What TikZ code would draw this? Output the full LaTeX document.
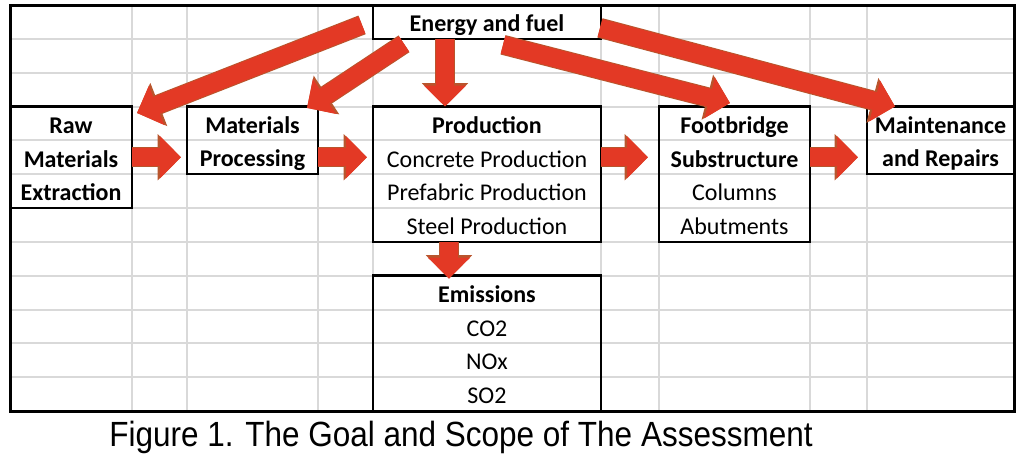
\documentclass[tikz,border=0pt]{standalone}
\usepackage{fontspec}
\setmainfont{Carlito}
\newfontfamily\capfont{Liberation Sans}
\usetikzlibrary{arrows.meta}
\definecolor{flowred}{RGB}{227,57,37}
\definecolor{flowedge}{RGB}{185,85,45}
\definecolor{cellgray}{RGB}{217,217,217}
\newcommand{\boxrows}[1]{\raisebox{-4.5pt}[0pt][0pt]{\begin{tabular}{@{}c@{}}#1\end{tabular}}}

\begin{document}
\begin{tikzpicture}[x=0.5pt, y=-0.5pt, font=\fontsize{12}{16.9}\selectfont,
  box/.style={draw, line width=1.3pt, inner sep=0pt, outer sep=0pt},
  flow/.style={flowred, line width=9pt, -{Triangle[length=10.5pt, width=20.5pt]},
    preaction={draw=flowedge, line width=10pt, -{Triangle[length=11.7pt, width=22.5pt]}}},
  cell/.style={cellgray, line width=1pt}]
\useasboundingbox (0,0) rectangle (1024,461);
\foreach \x in {132,187,318,373,601,659,810,867}
  \draw[cell] (\x,5) -- (\x,411);
\foreach \k in {1,...,11}
  \draw[cell] (10,5+33.833*\k) -- (1014,5+33.833*\k);
\draw[line width=1.5pt] (10,5) rectangle (1014,411);
\node[box, minimum width=114pt, minimum height=16.92pt] (energy) at (487,21.9) {\boxrows{\textbf{Energy and fuel}}};
\node[box, minimum width=61pt, minimum height=50.75pt] (raw) at (71,157.25) {\boxrows{\textbf{Raw}\\\textbf{Materials}\\\textbf{Extraction}}};
\node[box, minimum width=65.5pt, minimum height=33.85pt] (proc) at (252.5,140.3) {\boxrows{\textbf{Materials}\\\textbf{Processing}}};
\node[box, minimum width=114pt, minimum height=67.67pt] (prod) at (487,174.2) {\boxrows{\textbf{Production}\\Concrete Production\\Prefabric Production\\Steel Production}};
\node[box, minimum width=75.5pt, minimum height=67.67pt] (fb) at (734.5,174.2) {\boxrows{\textbf{Footbridge}\\\textbf{Substructure}\\Columns\\Abutments}};
\node[box, minimum width=73.5pt, minimum height=33.85pt] (maint) at (940.5,140.3) {\boxrows{\textbf{Maintenance}\\\textbf{and Repairs}}};
\node[box, minimum width=114pt, minimum height=67.67pt] (emis) at (487,343.3) {\boxrows{\textbf{Emissions}\\CO2\\NOx\\SO2}};
\node[font=\capfont\fontsize{17.5}{20}\selectfont, anchor=base] (caption) at (461,446) {\scalebox{0.9}[1]{Figure 1. The Goal and Scope of The Assessment}};
\draw[flow] ([xshift=-5.5pt, yshift=-1.5pt]energy.west) -- ([xshift=2.5pt, yshift=-3.25pt]raw.north east);
\draw[flow] ([xshift=15.5pt, yshift=-2.5pt]energy.south west) -- ([xshift=-5.5pt, yshift=-0.75pt]proc.north east);
\draw[flow] ([xshift=-21pt]energy.south) -- ([xshift=-21pt]prod.north);
\draw[flow] ([xshift=8pt, yshift=-3pt]energy.south) -- ([xshift=-2.25pt, yshift=1.75pt]fb.north);
\draw[flow] ([xshift=-0.5pt, yshift=-3pt]energy.east) -- ([xshift=14pt]maint.north west);
\draw[flow] (raw.east) -- ([xshift=-3pt]raw.east -| proc.west);
\draw[flow] (proc.east |- raw.east) -- ([xshift=-3pt]prod.west |- raw.east);
\draw[flow] (prod.east |- raw.east) -- ([xshift=-5.5pt]fb.west |- raw.east);
\draw[flow] (fb.east |- raw.east) -- ([xshift=-4.5pt]maint.west |- raw.east);
\draw[flow] ([xshift=-19pt]prod.south) -- ([xshift=-19pt, yshift=-1.5pt]emis.north);
\end{tikzpicture}
\end{document}
